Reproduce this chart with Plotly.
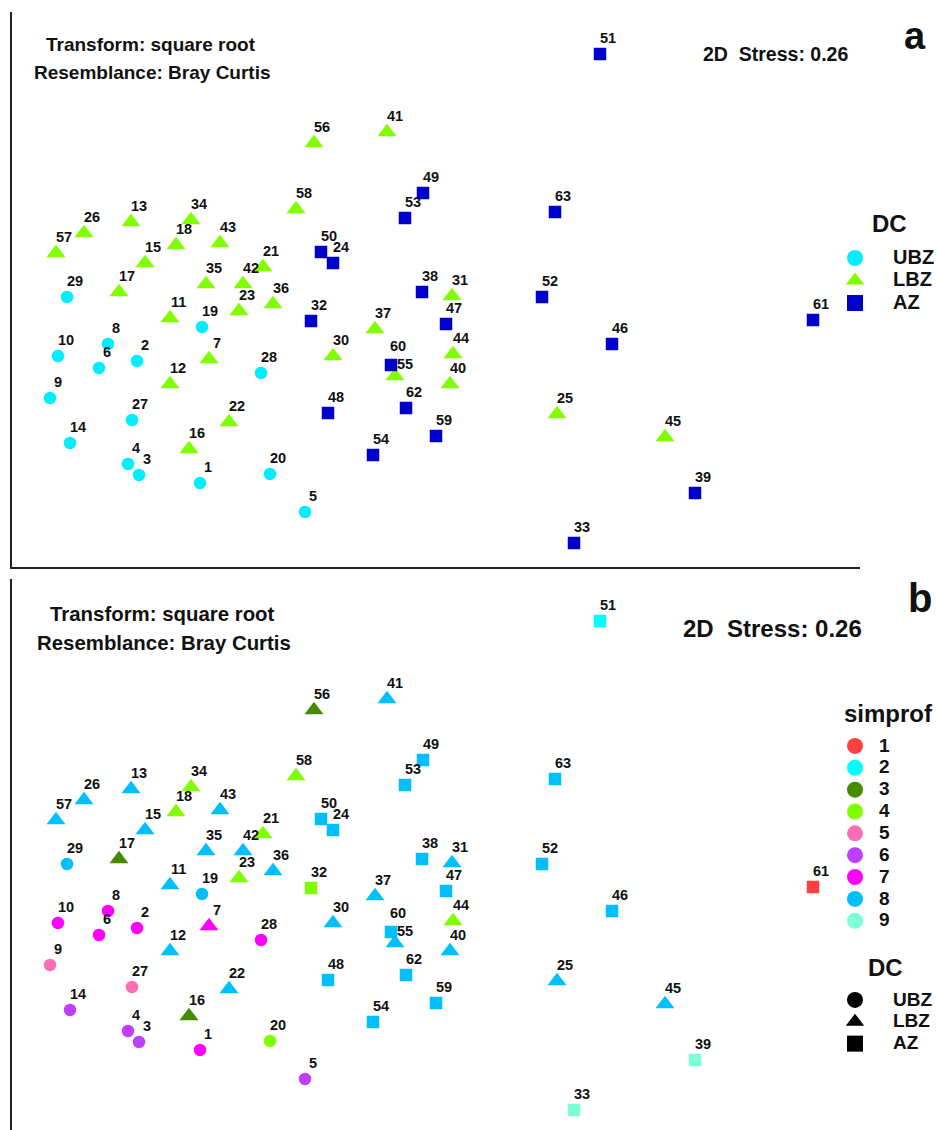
import plotly.graph_objects as go

# ---------------- data (nMDS coordinates) ----------------
sample = list(range(1, 64))
mds1 = [-1.150, -1.465, -1.455, -1.510, -0.625, -1.655, -1.105, -1.610, -1.900, -1.860,
        -1.300, -1.300, -1.495, -1.800, -1.425, -1.205, -1.555, -1.270, -1.140, -0.800,
        -0.835, -1.005, -0.955, -0.485, 0.635, -1.730, -1.490, -0.845, -1.815, -0.485,
        0.110, -0.595, 0.720, -1.195, -1.120, -0.785, -0.275, -0.040, 1.325, 0.100,
        -0.215, -0.935, -1.050, 0.115, 1.175, 0.910, 0.080, -0.510, -0.035, -0.545,
        0.850, 0.560, -0.125, -0.285, -0.175, -0.580, -1.870, -0.670, 0.030, -0.195,
        1.915, -0.120, 0.625]
mds2 = [-0.915, -0.305, -0.875, -0.820, -1.060, -0.340, -0.295, -0.220, -0.490, -0.280,
        -0.090, -0.420, 0.390, -0.715, 0.185, -0.745, 0.040, 0.275, -0.135, -0.870,
        0.165, -0.610, -0.055, 0.185, -0.570, 0.335, -0.600, -0.365, 0.015, -0.280,
        0.020, -0.105, -1.215, 0.400, 0.080, -0.020, -0.145, 0.040, -0.965, -0.420,
        0.840, 0.080, 0.285, -0.270, -0.685, -0.220, -0.120, -0.565, 0.535, 0.240,
        1.230, 0.015, 0.410, -0.775, -0.380, 0.785, 0.235, 0.455, -0.680, -0.325,
        -0.100, -0.540, 0.440]
dc = ["UBZ", "UBZ", "UBZ", "UBZ", "UBZ", "UBZ", "LBZ", "UBZ", "UBZ", "UBZ",
      "LBZ", "LBZ", "LBZ", "UBZ", "LBZ", "LBZ", "LBZ", "LBZ", "UBZ", "UBZ",
      "LBZ", "LBZ", "LBZ", "AZ", "LBZ", "LBZ", "UBZ", "UBZ", "UBZ", "LBZ",
      "LBZ", "AZ", "AZ", "LBZ", "LBZ", "LBZ", "LBZ", "AZ", "AZ", "LBZ",
      "LBZ", "LBZ", "LBZ", "LBZ", "LBZ", "AZ", "AZ", "AZ", "AZ", "AZ",
      "AZ", "AZ", "AZ", "AZ", "LBZ", "LBZ", "LBZ", "LBZ", "AZ", "AZ",
      "AZ", "AZ", "AZ"]
simprof = [7, 7, 6, 6, 6, 7, 7, 7, 5, 7,
           8, 8, 8, 6, 8, 3, 3, 4, 8, 4,
           4, 8, 4, 8, 8, 8, 5, 7, 8, 8,
           8, 4, 9, 4, 8, 8, 8, 8, 9, 8,
           8, 8, 8, 4, 8, 8, 8, 8, 8, 8,
           2, 8, 8, 8, 8, 3, 8, 4, 8, 8,
           1, 8, 8]

dc_levels = ["UBZ", "LBZ", "AZ"]
dc_colors = {"UBZ": "#00EEFF", "LBZ": "#7FFF00", "AZ": "#0000CD"}
dc_symbols = {"UBZ": "circle", "LBZ": "triangle-up", "AZ": "square"}
dc_sizes = {"UBZ": 12.5, "LBZ": 16.5, "AZ": 12.5}

simprof_levels = [1, 2, 3, 4, 5, 6, 7, 8, 9]
simprof_colors = {1: "#FF4040", 2: "#00FFFF", 3: "#458B00", 4: "#7FFF00", 5: "#FF6EB4",
                  6: "#BF3EFF", 7: "#FF00FF", 8: "#00BFFF", 9: "#7FFFD4"}

# small label nudges (pixels) to keep the crowded 60/55 labels apart
label_nudge = {60: (-1, 3), 55: (2, -4)}

# ---------------- figure geometry ----------------
W, H = 937, 1130
FONT = "Liberation Sans, Arial, sans-serif"
TXT = "#111111"


def px_x(p):
    return p / W


def px_y(p):
    return 1 - p / H


fig = go.Figure()

# ---- panel a: coloured by DC ----
for lev in dc_levels:
    idx = [i for i, d in enumerate(dc) if d == lev]
    fig.add_trace(go.Scatter(
        x=[mds1[i] for i in idx], y=[mds2[i] for i in idx], mode="markers",
        marker=dict(symbol=dc_symbols[lev], size=dc_sizes[lev], color=dc_colors[lev],
                    opacity=1, line=dict(width=0)),
        xaxis="x", yaxis="y", showlegend=False, hoverinfo="skip"))
    # legend entry
    fig.add_trace(go.Scatter(
        x=[None], y=[None], mode="markers", name=f'<span style="font-size:20px">{lev}</span>',
        marker=dict(symbol=dc_symbols[lev], size=16, color=dc_colors[lev], opacity=1),
        xaxis="x", yaxis="y", legend="legend", showlegend=True))

# ---- panel b: coloured by simprof, symbol by DC ----
for g in simprof_levels:
    idx = [i for i, s in enumerate(simprof) if s == g]
    fig.add_trace(go.Scatter(
        x=[mds1[i] for i in idx], y=[mds2[i] for i in idx], mode="markers",
        marker=dict(symbol=[dc_symbols[dc[i]] for i in idx], size=[dc_sizes[dc[i]] for i in idx],
                    color=simprof_colors[g], opacity=1, line=dict(width=0)),
        xaxis="x2", yaxis="y2", showlegend=False, hoverinfo="skip"))
    fig.add_trace(go.Scatter(
        x=[None], y=[None], mode="markers", name=f'<span style="font-size:19px">{g}</span>',
        marker=dict(symbol="circle", size=16, color=simprof_colors[g], opacity=1),
        xaxis="x2", yaxis="y2", legend="legend2", showlegend=True))
for lev in dc_levels:
    fig.add_trace(go.Scatter(
        x=[None], y=[None], mode="markers", name=f'<span style="font-size:19px">{lev}</span>',
        marker=dict(symbol=dc_symbols[lev], size=16, color="#000000", opacity=1),
        xaxis="x2", yaxis="y2", legend="legend3", showlegend=True))

# ---- point labels ----
annotations = []
for ax_x, ax_y in (("x", "y"), ("x2", "y2")):
    for s, xv, yv in zip(sample, mds1, mds2):
        dx, dy = label_nudge.get(s, (0, 0))
        annotations.append(dict(
            x=xv, y=yv, xref=ax_x, yref=ax_y, text=str(s), showarrow=False,
            xshift=8 + dx, yshift=16 + dy, xanchor="center", yanchor="middle",
            font=dict(family=FONT, size=14.5, color=TXT, weight="bold")))


def note(text, cx, cy, size):
    annotations.append(dict(
        x=px_x(cx), y=px_y(cy), xref="paper", yref="paper", text=text, showarrow=False,
        xanchor="center", yanchor="middle",
        font=dict(family=FONT, size=size, color=TXT, weight="bold")))


# panel a texts
note("Transform: square root", 151, 45, 19)
note("Resemblance: Bray Curtis", 152, 72, 19)
note("2D&nbsp; Stress: 0.26", 775, 54, 19.5)
note("a", 915, 36, 38)
note("DC", 889, 223, 24)
# panel b texts
note("Transform: square root", 162, 614, 20.4)
note("Resemblance: Bray Curtis", 164, 643, 20.4)
note("2D&nbsp; Stress: 0.26", 772, 628, 24)
note("b", 920, 598, 40)
note("simprof", 888, 713, 24)
note("DC", 885, 967, 24)

axis_common = dict(showgrid=False, zeroline=False, ticks="", showticklabels=False,
                    linecolor="#222222", linewidth=2, mirror=False)
x_dom = [px_x(12), px_x(860)]
x_rng = [-2.09, 2.15]

legend_common = dict(bgcolor="rgba(0,0,0,0)", borderwidth=0, itemsizing="trace",
                     xanchor="left", yanchor="top")

fig.update_layout(
    width=W, height=H,
    margin=dict(l=0, r=0, t=0, b=0, autoexpand=False),
    paper_bgcolor="white", plot_bgcolor="white",
    xaxis=dict(domain=x_dom, range=x_rng, anchor="y", showline=True, **axis_common),
    yaxis=dict(domain=[px_y(567), px_y(12)], range=[-1.335, 1.44], anchor="x", showline=True, **axis_common),
    xaxis2=dict(domain=x_dom, range=x_rng, anchor="y2", showline=False, **axis_common),
    yaxis2=dict(domain=[0, px_y(579)], range=[-1.315, 1.44], anchor="x2", showline=True, **axis_common),
    legend=dict(x=px_x(817), y=px_y(241.75), itemwidth=66,
                font=dict(family=FONT, color=TXT, weight="bold", size=15), **legend_common),
    legend2=dict(x=px_x(831), y=px_y(730), itemwidth=38,
                 font=dict(family=FONT, color=TXT, weight="bold", size=14.5), **legend_common),
    legend3=dict(x=px_x(817), y=px_y(984), itemwidth=66,
                 font=dict(family=FONT, color=TXT, weight="bold", size=14.5), **legend_common),
    annotations=annotations,
)

fig.write_html("out.html")
